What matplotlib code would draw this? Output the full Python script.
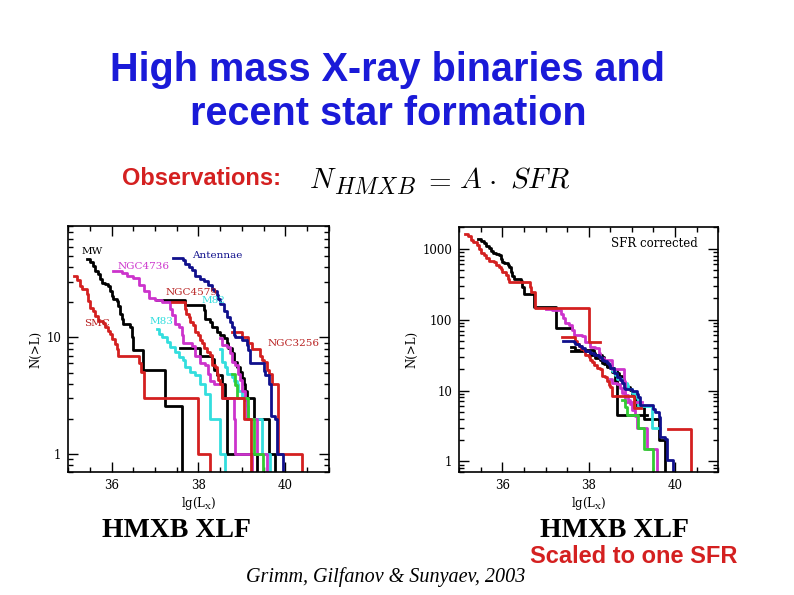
import numpy as np
import matplotlib
matplotlib.use("Agg")
import matplotlib.pyplot as plt
from matplotlib.ticker import FixedLocator, LogLocator, NullFormatter, FixedFormatter

# cumulative XLFs: lgL break points and N(>L) after each break (last lgL = where curve ends)
mw_lgl = [35.44, 35.50, 35.58, 35.62, 35.69, 35.73, 35.77, 35.85, 35.92, 35.96, 36.00, 36.04,
          36.12, 36.15, 36.19, 36.23, 36.27, 36.42, 36.46, 36.50, 36.73, 37.23, 37.62]
mw_n = [47, 44, 41, 37, 35, 31.5, 29.5, 28.6, 27.7, 25, 22.7, 21.3, 20.6, 18.7, 16, 14.3, 13,
        12.2, 10, 7.8, 5.25, 2.6]

smc_lgl = [35.13, 35.19, 35.27, 35.31, 35.42, 35.46, 35.50, 35.58, 35.62, 35.69, 35.81, 35.85,
           35.92, 35.96, 36.00, 36.08, 36.12, 36.15, 36.64, 36.67, 36.75, 38.00, 38.27]
smc_n = [33.6, 31, 27.7, 26, 23.5, 20.6, 18, 17, 15.3, 13.9, 13.4, 12.2, 11.4, 10.7, 9.7, 8.8,
         7.9, 7.0, 6.0, 5.1, 3.0, 1.0]

n4736_lgl = [36.02, 36.23, 36.35, 36.50, 36.62, 36.75, 36.85, 37.00, 37.15, 37.35, 37.40, 37.46,
             37.54, 37.62, 37.65, 37.85, 37.92, 38.04, 38.15, 38.23, 38.27, 38.35, 38.54, 38.81,
             38.85, 39.23]
n4736_n = [37, 36, 34, 32.6, 28, 25, 22, 21, 20, 17.5, 15.5, 13, 12.3, 10.5, 9, 8.5, 7, 6, 5.8,
           4.9, 4.2, 4, 3, 2, 1]

mag2_lgl = [38.50, 38.54, 38.65, 38.73, 38.77, 38.85, 38.92, 38.96, 39.00, 39.08, 39.12, 39.35, 39.58]
mag2_n = [9.8, 8.6, 8.3, 7.3, 6.2, 5.8, 4.9, 4.3, 3.5, 2.9, 2.0, 1.0]

n4579_lgl = [37.38, 37.69, 37.72, 37.77, 37.81, 37.88, 37.92, 38.00, 38.04, 38.08, 38.12, 38.19,
             38.27, 38.31, 38.38, 38.42, 38.46, 38.50, 38.54, 39.04, 39.20]
n4579_n = [20.2, 17.7, 16.0, 15.0, 13.6, 12.7, 11.2, 10.5, 9.5, 8.9, 8.1, 7.5, 7.1, 5.8, 5.6,
           4.9, 4.3, 4.0, 3.0, 2.0]

ant_lgl = [37.41, 37.65, 37.69, 37.77, 37.85, 37.92, 38.04, 38.12, 38.23, 38.31, 38.35, 38.42,
           38.46, 38.50, 38.58, 38.65, 38.73, 38.77, 38.81, 38.85, 39.00, 39.12, 39.15, 39.19,
           39.50, 39.54, 39.62, 39.66, 39.77, 39.81, 39.95]
ant_n = [48, 46, 43, 40, 38, 34, 32, 30.5, 28, 26, 25, 23, 21.5, 19.5, 17, 15, 13.6, 12.3, 10.5,
         10.1, 9.5, 8.6, 7.8, 6.0, 5.2, 4.8, 4.0, 2.1, 2.0, 1.0]

n3256_lgl = [38.77, 39.00, 39.15, 39.23, 39.42, 39.46, 39.50, 39.58, 39.62, 39.69, 39.83, 40.38]
n3256_n = [11.2, 10.0, 9.0, 8.0, 7.0, 6.4, 6.2, 5.3, 4.9, 4.0, 1.0]

m83_lgl = [37.04, 37.08, 37.15, 37.27, 37.35, 37.46, 37.54, 37.65, 37.69, 37.81, 37.92, 38.04,
           38.15, 38.27, 38.50, 38.62]
m83_n = [11.9, 10.8, 10.0, 9.2, 8.3, 7.5, 6.8, 6.4, 5.6, 5.1, 4.8, 4.0, 3.3, 2.0, 1.0]

m82_lgl = [38.50, 38.54, 38.62, 38.65, 38.77, 38.81, 38.88, 38.92, 39.00, 39.08, 39.12, 39.15,
           39.46, 39.65]
m82_n = [8.0, 6.2, 5.6, 4.9, 4.6, 4.2, 4.0, 3.5, 3.1, 3.0, 2.6, 2.0, 1.0]

blk2_lgl = [37.04, 37.69, 38.12, 38.15, 38.27, 38.31, 38.42, 38.50, 38.58, 38.65, 38.69, 38.77,
            38.81, 38.88, 38.96, 39.00, 39.04, 39.08, 39.12, 39.27, 39.62, 39.77]
blk2_n = [20.8, 18.9, 17.1, 14.5, 13.6, 12.3, 11.2, 10.5, 9.8, 8.9, 8.1, 7.3, 6.2, 5.6, 5.1,
          4.5, 4.0, 3.5, 3.0, 2.0, 1.0]

blk3_lgl = [37.58, 38.04, 38.31, 38.35, 38.42, 38.54, 38.62, 38.65, 39.35]
blk3_n = [8.1, 7.0, 6.5, 5.3, 4.8, 4.0, 3.0, 1.0]

grn_lgl = [38.77, 38.84, 38.88, 39.15, 39.27, 39.48]
grn_n = [4.9, 3.9, 3.0, 2.0, 1.0]

# SFR scaling used in the right panel (None = not shown), lower lgL cut there,
# and which scaled curves still fall off to the bottom axis
sfr_scale = {"mw": 29, "smc": 48, "n4736": 6.8, "mag2": 1.5, "n4579": 2.8, "ant": 1.05,
             "n3256": 2.85, "m83": None, "m82": 3.0, "blk2": 2.0, "blk3": 4.5, "grn": 1.5}
sfr_cut = {"n4736": 37.0, "blk2": 37.6, "n3256": 39.83}
sfr_drop = {"mag2", "grn", "ant", "blk2", "n3256"}

RED = "#d42020"
DRED = "#b82020"
MAG = "#cc33cc"
CYAN = "#33dede"
BLUE = "#10108c"
GRN = "#33cc33"

curves = [
    ("blk2", blk2_lgl, blk2_n, "black"),
    ("blk3", blk3_lgl, blk3_n, "black"),
    ("mw", mw_lgl, mw_n, "black"),
    ("m83", m83_lgl, m83_n, CYAN),
    ("m82", m82_lgl, m82_n, CYAN),
    ("n4736", n4736_lgl, n4736_n, MAG),
    ("mag2", mag2_lgl, mag2_n, MAG),
    ("grn", grn_lgl, grn_n, GRN),
    ("smc", smc_lgl, smc_n, RED),
    ("n4579", n4579_lgl, n4579_n, RED),
    ("n3256", n3256_lgl, n3256_n, RED),
    ("ant", ant_lgl, ant_n, BLUE),
]

FLOOR = 0.1


def step_xy(lgl, n, scale=1.0, lmin=None, drop=True):
    x = np.array(lgl, dtype=float)
    y = np.array(n, dtype=float) * scale
    if lmin is not None:
        k = np.searchsorted(x, lmin, side="right") - 1
        x = np.concatenate([[lmin], x[k + 1:]])
        y = y[k:]
    return x, np.append(y, FLOOR if drop else y[-1])


def style_axes(ax, ymax, yticks):
    ax.set_yscale("log")
    ax.set_xlim(35.0, 41.0)
    ax.set_ylim(0.7, ymax)
    ax.xaxis.set_major_locator(FixedLocator([36, 38, 40]))
    ax.xaxis.set_minor_locator(FixedLocator(np.arange(35.0, 41.01, 0.5)))
    ax.yaxis.set_major_locator(FixedLocator(yticks))
    ax.yaxis.set_major_formatter(FixedFormatter([str(int(t)) for t in yticks]))
    ax.yaxis.set_minor_locator(LogLocator(base=10, subs=np.arange(2, 10)))
    ax.yaxis.set_minor_formatter(NullFormatter())
    ax.tick_params(which="both", direction="in", top=True, right=True, width=1.0,
                   labelsize=8.5, pad=5)
    ax.tick_params(which="major", length=7)
    ax.tick_params(which="minor", length=3.5)
    for lab in ax.get_xticklabels() + ax.get_yticklabels():
        lab.set_family("DejaVu Serif")
    for s in ax.spines.values():
        s.set_linewidth(1.2)
    ax.set_xlabel(r"lg(L$_{\rm X}$)", family="DejaVu Serif", fontsize=8.5, labelpad=2)
    ax.set_ylabel("N(>L)", family="DejaVu Serif", fontsize=8.5, labelpad=3)


plt.rcParams["mathtext.fontset"] = "dejavuserif"
fig = plt.figure(figsize=(7.94, 5.95), dpi=100)

ax1 = fig.add_axes([0.086, 0.2067, 0.328, 0.413])
ax2 = fig.add_axes([0.5785, 0.206, 0.326, 0.412])

for key, lgl, n, col in curves:
    x, y = step_xy(lgl, n)
    ax1.step(x, y, where="post", color=col, lw=2.0)
    sc = sfr_scale[key]
    if sc is not None:
        x, y = step_xy(lgl, n, sc, sfr_cut.get(key), key in sfr_drop)
        ax2.step(x, y, where="post", color=col, lw=2.0)

style_axes(ax1, 90, [1, 10])
style_axes(ax2, 2000, [1, 10, 100, 1000])

lab_kw = dict(family="DejaVu Serif", fontsize=7.5, va="center", ha="left")
ax1.text(35.31, 55, "MW", color="black", **lab_kw)
ax1.text(36.14, 40.7, "NGC4736", color=MAG, **lab_kw)
ax1.text(37.85, 50.6, "Antennae", color=BLUE, **lab_kw)
ax1.text(37.25, 24.1, "NGC4579", color=DRED, **lab_kw)
ax1.text(38.06, 20.8, "M82", color=CYAN, **lab_kw)
ax1.text(35.37, 13.3, "SMC", color=DRED, **lab_kw)
ax1.text(36.86, 13.6, "M83", color=CYAN, **lab_kw)
ax1.text(39.58, 8.9, "NGC3256", color=DRED, **lab_kw)
ax2.text(38.51, 1176, "SFR corrected", color="black", family="DejaVu Serif",
         fontsize=8.5, va="center", ha="left")

# slide text
W, H = 794.0, 595.0
TBLUE = "#1a1ad8"
TRED = "#d42020"
fig.text(388 / W, 1 - 81 / H, "High mass X-ray binaries and", ha="center", va="baseline",
         family="Liberation Sans", weight="bold", fontsize=28.5, color=TBLUE)
fig.text(388 / W, 1 - 125 / H, "recent star formation", ha="center", va="baseline",
         family="Liberation Sans", weight="bold", fontsize=28.5, color=TBLUE)
fig.text(122 / W, 1 - 185 / H, "Observations:", ha="left", va="baseline",
         family="Liberation Sans", weight="bold", fontsize=17, color=TRED)
# formula, pieced together so the subscript stays large as in the slide
math_kw = dict(va="baseline", ha="left", color="black", math_fontfamily="cm")
fig.text(309 / W, 1 - 188 / H, r"$N$", fontsize=21, **math_kw)
fig.text(334 / W, 1 - 194 / H, r"$HMXB$", fontsize=17, **math_kw)
fig.text(423 / W, 1 - 188 / H, r"$=$", fontsize=21, **math_kw)
fig.text(459 / W, 1 - 188 / H, r"$A$", fontsize=21, **math_kw)
fig.text(488 / W, 1 - 188 / H, r"$\cdot$", fontsize=21, **math_kw)
fig.text(510 / W, 1 - 188 / H, r"$SFR$", fontsize=21, **math_kw)
fig.text(177 / W, 1 - 537 / H, "HMXB XLF", ha="center", va="baseline",
         family="Liberation Serif", weight="bold", fontsize=20, color="black")
fig.text(614 / W, 1 - 537 / H, "HMXB XLF", ha="center", va="baseline",
         family="Liberation Serif", weight="bold", fontsize=20, color="black")
fig.text(634 / W, 1 - 563 / H, "Scaled to one SFR", ha="center", va="baseline",
         family="Liberation Sans", weight="bold", fontsize=17, color=TRED)
fig.text(386 / W, 1 - 582 / H, "Grimm, Gilfanov & Sunyaev, 2003", ha="center", va="baseline",
         family="Liberation Serif", style="italic", fontsize=14.5, color="black")

fig.savefig("out.png", dpi=100)
